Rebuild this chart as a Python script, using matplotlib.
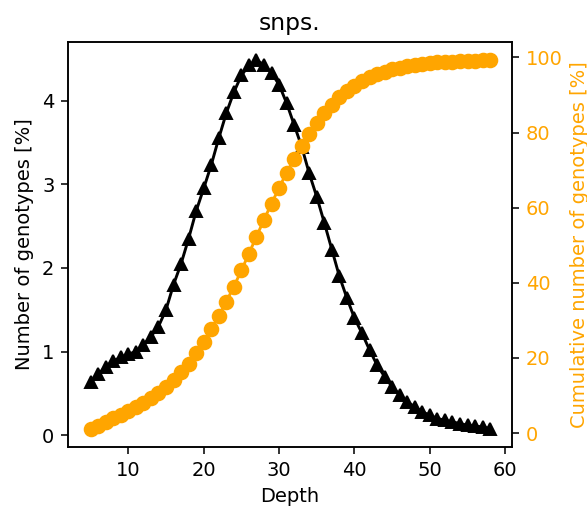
import matplotlib
matplotlib.use("Agg")
import matplotlib.pyplot as plt

depth = list(range(5, 59))
genotypes_pct = [0.64, 0.73, 0.82, 0.89, 0.93, 0.97, 1.00, 1.08, 1.18, 1.30,
                 1.50, 1.80, 2.05, 2.35, 2.68, 2.95, 3.23, 3.55, 3.85, 4.10,
                 4.30, 4.42, 4.48, 4.43, 4.33, 4.19, 3.97, 3.71, 3.45, 3.13,
                 2.85, 2.54, 2.22, 1.90, 1.64, 1.40, 1.22, 1.02, 0.84, 0.70,
                 0.58, 0.48, 0.40, 0.34, 0.28, 0.24, 0.20, 0.18, 0.16, 0.14,
                 0.12, 0.11, 0.10, 0.08]
cumulative_pct = [1.2, 2.0, 2.9, 3.9, 4.9, 5.9, 7.0, 8.1, 9.4, 10.7,
                  12.3, 14.1, 16.2, 18.5, 21.2, 24.2, 27.6, 31.2, 35.0, 39.0,
                  43.3, 47.8, 52.3, 56.8, 61.1, 65.3, 69.3, 73.0, 76.4, 79.6,
                  82.5, 85.1, 87.4, 89.4, 91.1, 92.5, 93.7, 94.7, 95.5, 96.2,
                  96.8, 97.3, 97.7, 98.0, 98.3, 98.5, 98.7, 98.8, 98.9, 99.0,
                  99.1, 99.1, 99.2, 99.2]

DPI = 140
fig = plt.figure(figsize=(587 / DPI, 508 / DPI), dpi=DPI)
ax = fig.add_axes([68/587, 1-447/508, 444/587, 405/508])
ax.plot(depth, genotypes_pct, '-^', color='black', markersize=6)
ax.set_xlabel('Depth')
ax.set_ylabel('Number of genotypes [%]')
ax.set_title('snps.')
ax.set_xlim(2.0, 60.9)

ax2 = ax.twinx()
ax2.plot(depth, cumulative_pct, '-o', color='orange', markersize=7)
ax2.set_ylabel('Cumulative number of genotypes [%]', color='orange')
ax2.tick_params(axis='y', labelcolor='orange')

fig.savefig('out.png', dpi=DPI)
